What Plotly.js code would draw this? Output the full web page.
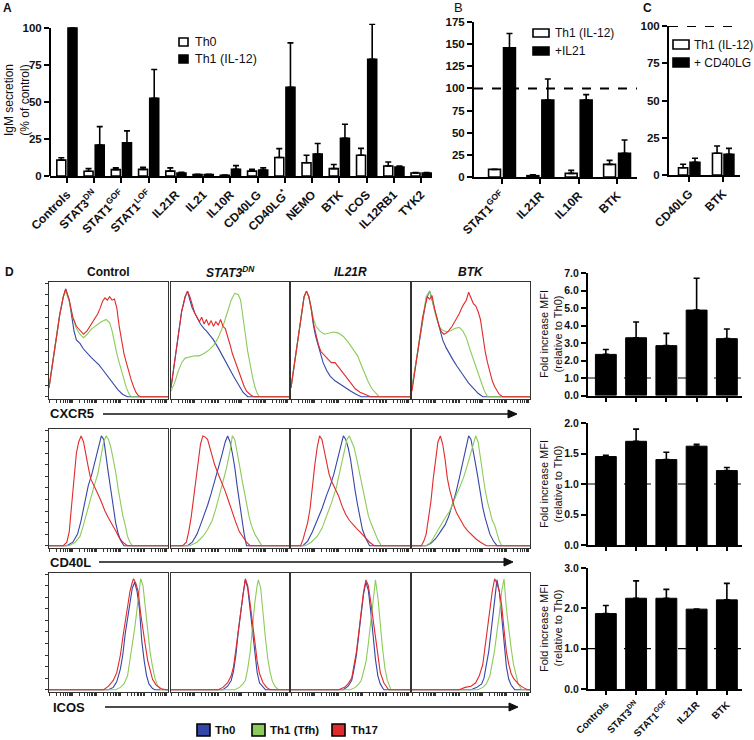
<!DOCTYPE html>
<html><head><meta charset="utf-8">
<script src="https://cdn.plot.ly/plotly-3.0.1.min.js"></script>
<style>html,body{margin:0;padding:0;background:#fff}#chart{width:754px;height:740px}</style>
</head><body><div id="chart"></div>
<script>
// ---------- Panel A ----------
const catsA = ['Controls','STAT3<sup>DN</sup>','STAT1<sup>GOF</sup>','STAT1<sup>LOF</sup>','IL21R','IL21','IL10R','CD40LG','CD40LG<sup>*</sup>','NEMO','BTK','ICOS','IL12RB1','TYK2'];
const th0A     = [10.7, 3.2, 4.3, 4.5, 3.3, 1.0, 0.5, 3.3, 12.5, 9.0, 5.0, 14.0, 6.8, 2.0];
const th0A_err = [1.6, 1.8, 1.2, 1.3, 2.2, 0.2, 0.2, 1.2, 6.0, 5.0, 2.8, 4.7, 2.7, 0.4];
const th1A     = [100, 20.9, 22.5, 52.5, 2.0, 1.0, 4.5, 4.0, 60.0, 14.8, 25.5, 78.8, 6.0, 2.0];
const th1A_err = [0, 12.5, 8.0, 19.5, 0.5, 0.2, 2.5, 1.5, 30.0, 7.2, 9.5, 23.8, 0.8, 0.3];
// ---------- Panel B ----------
const catsB = ['STAT1<sup>GOF</sup>','IL21R','IL10R','BTK'];
const th1B     = [8.6, 1.5, 4.1, 14.3];
const th1B_err = [0, 1.0, 3.4, 4.5];
const il21B     = [146, 87, 87, 26.7];
const il21B_err = [16, 23.6, 6, 15.1];
// ---------- Panel C ----------
const catsC = ['CD40LG','BTK'];
const th1C     = [4.9, 14.6];
const th1C_err = [2.3, 4.9];
const cd40C     = [8.5, 13.9];
const cd40C_err = [2.7, 4.0];
// ---------- Panel D bars ----------
const catsD = ['Controls','STAT3<sup>DN</sup>','STAT1<sup>GOF</sup>','IL21R','BTK'];
const cxcr5D     = [2.35, 3.3, 2.85, 4.88, 3.25];
const cxcr5D_err = [0.28, 0.9, 0.7, 1.82, 0.55];
const cd40lD     = [1.45, 1.70, 1.40, 1.62, 1.22];
const cd40lD_err = [0.02, 0.20, 0.12, 0.03, 0.05];
const icosD      = [1.87, 2.25, 2.25, 1.98, 2.21];
const icosD_err  = [0.20, 0.43, 0.22, 0.0, 0.41];
// ---------- Panel D histograms (x: channel 0-100, y: % of max) ----------
const histCols = ['Control','STAT3<sup>DN</sup>','IL21R','BTK'];
const histRows = ['CXCR5','CD40L','ICOS'];
const CXCR5_Control_Th0 = [[0,8],[3,30],[6,52],[9,72],[12,88],[14,95],[17,85],[19,70],[21,58],[23,50],[26,47],[29,42],[32,38],[35,35],[38,32],[42,28],[45,24],[48,20],[51,15],[54,11],[58,6],[62,2],[66,0],[100,0]];
const CXCR5_Control_Th1 = [[0,8],[3,30],[6,52],[9,72],[12,88],[14,93],[17,84],[20,70],[23,60],[26,55],[29,52],[32,55],[36,60],[40,63],[44,66],[48,68],[51,65],[53,58],[55,47],[57,38],[59,30],[61,22],[63,14],[65,8],[67,3],[69,0],[100,0]];
const CXCR5_Control_Th17 = [[0,8],[3,30],[6,52],[9,72],[12,88],[14,95],[17,85],[20,70],[23,62],[26,58],[29,55],[32,58],[35,63],[38,68],[41,73],[43,78],[45,84],[47,87],[49,85],[51,88],[53,85],[55,86],[57,78],[59,62],[61,48],[63,38],[65,30],[67,22],[69,15],[71,9],[73,4],[75,1],[77,0],[100,0]];
const CXCR5_STAT3_Th0 = [[0,8],[3,30],[6,55],[9,75],[12,88],[14,93],[16,85],[18,78],[20,74],[22,70],[25,64],[28,60],[30,58],[33,54],[36,50],[40,43],[44,35],[48,27],[53,18],[57,11],[61,4],[65,0],[100,0]];
const CXCR5_STAT3_Th1 = [[0,5],[3,12],[6,22],[9,30],[12,34],[16,35],[20,36],[24,36],[28,38],[32,41],[36,45],[40,52],[44,62],[48,75],[51,85],[54,91],[57,90],[59,85],[61,72],[63,55],[65,40],[67,28],[69,18],[71,9],[73,3],[75,0],[100,0]];
const CXCR5_STAT3_Th17 = [[0,8],[3,30],[6,55],[9,75],[12,88],[14,93],[16,88],[18,80],[20,74],[22,70],[24,66],[26,70],[28,64],[30,68],[32,63],[34,67],[36,62],[38,66],[40,63],[42,68],[44,62],[46,60],[48,54],[50,46],[52,38],[54,32],[56,27],[58,20],[60,14],[62,9],[64,5],[67,2],[70,0],[100,0]];
const CXCR5_IL21R_Th0 = [[0,8],[3,30],[6,55],[9,75],[11,88],[13,93],[15,88],[17,77],[19,62],[21,52],[24,40],[27,30],[30,23],[33,18],[37,14],[41,11],[45,8],[50,5],[55,2],[59,0],[100,0]];
const CXCR5_IL21R_Th1 = [[0,8],[3,30],[6,55],[9,75],[11,88],[13,93],[15,88],[17,78],[19,68],[21,62],[24,58],[28,55],[32,56],[36,57],[40,56],[44,53],[48,48],[52,42],[56,36],[59,28],[62,20],[65,13],[68,7],[71,3],[74,0],[100,0]];
const CXCR5_IL21R_Th17 = [[0,8],[3,30],[6,55],[9,75],[11,88],[13,93],[15,88],[17,78],[19,64],[21,55],[23,46],[25,40],[28,36],[31,33],[34,30],[37,30],[40,26],[43,22],[46,17],[50,12],[54,7],[58,4],[62,2],[67,0],[100,0]];
const CXCR5_BTK_Th0 = [[0,8],[3,28],[6,50],[9,70],[12,86],[15,93],[17,85],[19,76],[21,69],[23,60],[26,50],[29,43],[32,37],[35,32],[38,27],[41,22],[44,18],[48,12],[52,7],[56,3],[60,0],[100,0]];
const CXCR5_BTK_Th1 = [[0,8],[3,28],[6,50],[9,72],[12,88],[15,93],[17,86],[19,76],[21,68],[24,60],[27,58],[30,57],[33,58],[36,60],[40,61],[43,58],[46,52],[49,42],[52,33],[55,22],[58,13],[61,6],[64,0],[100,0]];
const CXCR5_BTK_Th17 = [[0,5],[3,25],[6,48],[9,70],[11,80],[13,88],[15,86],[17,89],[19,78],[21,70],[23,62],[25,57],[27,55],[29,56],[31,58],[34,62],[37,67],[40,73],[43,80],[46,85],[48,92],[50,86],[52,82],[54,80],[56,75],[58,68],[60,52],[62,40],[64,30],[66,21],[68,14],[70,9],[72,5],[74,2],[77,0],[100,0]];
const CD40L_Control_Th0 = [[0,0],[15,0],[20,3],[24,10],[27,22],[30,38],[33,52],[36,62],[39,75],[42,88],[44,95],[46,92],[48,75],[50,62],[52,48],[54,34],[56,20],[58,11],[60,5],[63,0],[100,0]];
const CD40L_Control_Th1 = [[0,0],[17,0],[22,3],[26,8],[29,18],[32,30],[35,42],[38,52],[41,62],[44,78],[46,90],[48,95],[50,92],[52,85],[54,75],[56,64],[58,50],[60,36],[62,26],[64,18],[66,8],[68,3],[70,0],[100,0]];
const CD40L_Control_Th17 = [[0,0],[12,0],[15,3],[17,12],[19,35],[21,60],[23,80],[25,90],[27,95],[29,90],[31,78],[33,68],[35,58],[38,52],[41,45],[44,38],[47,30],[50,24],[53,19],[56,13],[59,7],[62,3],[66,0],[100,0]];
const CD40L_STAT3_Th0 = [[0,0],[14,0],[18,3],[22,10],[25,18],[28,26],[31,35],[34,45],[37,55],[40,67],[43,78],[46,90],[48,95],[50,90],[52,80],[54,68],[56,52],[58,36],[60,24],[62,10],[64,0],[100,0]];
const CD40L_STAT3_Th1 = [[0,0],[16,0],[22,3],[27,8],[31,14],[35,22],[38,32],[41,43],[44,55],[47,67],[50,82],[52,95],[54,92],[56,82],[58,70],[60,58],[62,47],[64,36],[66,26],[68,18],[71,10],[74,5],[77,0],[100,0]];
const CD40L_STAT3_Th17 = [[0,0],[10,0],[13,3],[15,12],[17,24],[19,40],[21,55],[23,75],[25,88],[27,95],[29,94],[31,92],[33,85],[35,76],[37,70],[40,62],[43,55],[46,47],[49,38],[52,28],[55,20],[58,12],[61,7],[64,3],[67,0],[100,0]];
const CD40L_IL21R_Th0 = [[0,0],[10,0],[14,4],[18,12],[22,22],[26,32],[30,44],[33,52],[36,62],[39,75],[42,88],[44,95],[46,92],[48,85],[50,75],[52,60],[54,47],[56,35],[58,24],[60,14],[63,6],[66,0],[100,0]];
const CD40L_IL21R_Th1 = [[0,0],[12,0],[17,3],[22,8],[26,15],[30,26],[34,37],[38,50],[41,65],[44,80],[47,92],[49,95],[51,90],[53,85],[55,76],[57,66],[59,55],[61,44],[63,34],[65,26],[67,20],[70,12],[73,5],[76,0],[100,0]];
const CD40L_IL21R_Th17 = [[0,0],[8,0],[10,5],[12,12],[14,20],[16,32],[18,52],[20,70],[22,85],[24,95],[26,92],[28,82],[30,72],[32,62],[34,56],[37,50],[40,43],[43,34],[46,27],[49,22],[52,18],[55,15],[58,12],[62,7],[66,3],[70,0],[100,0]];
const CD40L_BTK_Th0 = [[0,0],[12,0],[16,2],[20,6],[24,12],[28,18],[31,25],[34,34],[37,45],[40,58],[43,72],[46,88],[48,95],[50,92],[52,82],[54,70],[56,58],[58,45],[60,33],[62,24],[64,18],[66,10],[69,4],[72,0],[100,0]];
const CD40L_BTK_Th1 = [[0,0],[12,0],[16,3],[20,10],[24,18],[28,24],[32,30],[35,38],[38,45],[41,52],[44,60],[47,70],[50,80],[52,88],[54,95],[56,90],[58,75],[60,60],[62,48],[64,38],[66,30],[68,22],[70,18],[72,10],[74,4],[76,0],[100,0]];
const CD40L_BTK_Th17 = [[0,0],[8,0],[10,4],[12,10],[14,24],[16,38],[18,58],[20,75],[22,90],[24,95],[26,88],[28,75],[30,58],[32,48],[34,40],[36,33],[38,28],[41,22],[44,17],[47,13],[50,10],[54,6],[58,3],[63,0],[100,0]];
const ICOS_Control_Th0 = [[0,0],[50,0],[54,2],[57,7],[60,18],[62,30],[64,48],[66,62],[68,78],[70,88],[72,93],[74,85],[76,70],[78,42],[80,25],[82,12],[84,5],[87,1],[89,0],[100,0]];
const ICOS_Control_Th1 = [[0,0],[56,0],[60,2],[63,5],[66,12],[68,25],[70,40],[72,53],[74,70],[76,88],[77,96],[79,90],[81,72],[83,50],[85,32],[87,20],[89,10],[91,4],[94,0],[100,0]];
const ICOS_Control_Th17 = [[0,0],[46,0],[50,3],[54,8],[57,15],[60,30],[62,45],[64,58],[66,72],[68,85],[70,93],[71,96],[73,92],[75,85],[77,66],[79,50],[81,38],[83,25],[85,16],[87,9],[90,4],[94,1],[98,0],[100,0]];
const ICOS_STAT3_Th0 = [[0,0],[44,0],[48,3],[51,8],[53,16],[55,30],[57,50],[59,68],[61,82],[63,95],[65,88],[67,70],[69,50],[71,30],[73,15],[75,6],[78,2],[80,0],[100,0]];
const ICOS_STAT3_Th1 = [[0,0],[54,0],[58,2],[61,5],[63,8],[65,18],[67,32],[69,55],[71,75],[73,90],[74,95],[76,88],[78,65],[80,45],[82,27],[84,15],[86,7],[88,3],[91,0],[100,0]];
const ICOS_STAT3_Th17 = [[0,0],[40,0],[44,2],[48,6],[51,12],[53,20],[55,35],[57,52],[59,68],[61,82],[63,96],[65,90],[67,75],[69,60],[71,42],[73,25],[75,14],[78,6],[81,2],[84,0],[100,0]];
const ICOS_IL21R_Th0 = [[0,0],[44,0],[48,3],[51,8],[53,18],[55,30],[57,48],[59,65],[61,83],[63,93],[65,86],[67,68],[69,45],[71,26],[73,12],[75,5],[78,0],[100,0]];
const ICOS_IL21R_Th1 = [[0,0],[50,0],[54,2],[57,5],[59,8],[61,15],[63,24],[65,40],[67,60],[69,80],[71,95],[73,80],[75,55],[77,35],[79,18],[81,8],[84,0],[100,0]];
const ICOS_IL21R_Th17 = [[0,0],[40,0],[45,2],[48,5],[51,10],[53,22],[55,33],[57,50],[59,68],[61,85],[63,95],[65,90],[67,76],[69,60],[71,42],[73,28],[75,15],[78,6],[82,0],[100,0]];
const ICOS_BTK_Th0 = [[0,0],[50,0],[55,2],[59,5],[61,10],[63,22],[65,33],[67,50],[69,70],[71,88],[72,95],[74,85],[76,62],[78,38],[80,20],[82,9],[84,4],[87,0],[100,0]];
const ICOS_BTK_Th1 = [[0,0],[56,0],[60,2],[63,5],[66,12],[68,22],[70,34],[72,50],[74,65],[76,85],[78,96],[80,70],[82,50],[84,36],[86,22],[88,12],[90,5],[93,0],[100,0]];
const ICOS_BTK_Th17 = [[0,0],[40,0],[45,2],[50,3],[54,6],[57,12],[60,22],[62,38],[64,53],[66,72],[68,85],[70,96],[72,92],[74,85],[76,73],[78,52],[80,33],[82,22],[84,14],[86,10],[90,5],[94,2],[98,0],[100,0]];

const histGrid = [
  [[CXCR5_Control_Th0,CXCR5_Control_Th1,CXCR5_Control_Th17],[CXCR5_STAT3_Th0,CXCR5_STAT3_Th1,CXCR5_STAT3_Th17],[CXCR5_IL21R_Th0,CXCR5_IL21R_Th1,CXCR5_IL21R_Th17],[CXCR5_BTK_Th0,CXCR5_BTK_Th1,CXCR5_BTK_Th17]],
  [[CD40L_Control_Th0,CD40L_Control_Th1,CD40L_Control_Th17],[CD40L_STAT3_Th0,CD40L_STAT3_Th1,CD40L_STAT3_Th17],[CD40L_IL21R_Th0,CD40L_IL21R_Th1,CD40L_IL21R_Th17],[CD40L_BTK_Th0,CD40L_BTK_Th1,CD40L_BTK_Th17]],
  [[ICOS_Control_Th0,ICOS_Control_Th1,ICOS_Control_Th17],[ICOS_STAT3_Th0,ICOS_STAT3_Th1,ICOS_STAT3_Th17],[ICOS_IL21R_Th0,ICOS_IL21R_Th1,ICOS_IL21R_Th17],[ICOS_BTK_Th0,ICOS_BTK_Th1,ICOS_BTK_Th17]]
];

// ---------- styling ----------
const W = 754, H = 740;
const FONT = 'Liberation Sans, Arial, Helvetica, sans-serif';
const C_TH0 = '#3446a8', C_TH1 = '#8ccb5a', C_TH17 = '#e2292b';
const dx = (a,b) => [a/W, b/W];
const dy = (top,bot) => [1-bot/H, 1-top/H];
const tickF = (s) => ({family: FONT, size: s, color: '#111', weight: 'bold'});

const traces = [];
const layout = {
  width: W, height: H, margin: {l:0,r:0,t:0,b:0},
  paper_bgcolor: '#fff', plot_bgcolor: 'rgba(0,0,0,0)',
  showlegend: false, barmode: 'overlay',
  font: {family: FONT, color: '#111'},
  shapes: [], annotations: []
};

function bar(xa, ya, cats, vals, errs, fill, offset, width, lw) {
  traces.push({type:'bar', x: cats, y: vals, xaxis: xa, yaxis: ya, offset: offset, width: width,
    marker: {color: fill, line: {color: '#000', width: lw}},
    error_y: {type:'data', symmetric:false, array: errs, arrayminus: errs.map(()=>0), color:'#000', thickness: 1.6, width: 3},
    hoverinfo:'skip', showlegend:false});
}
function catX(domain, range, cats, angle, showLabels, fs, tl) {
  return {domain: domain, range: range, type:'category', categoryorder:'array', categoryarray: cats,
    showline: true, linewidth: 2, linecolor:'#000', ticks:'outside', ticklen: tl || 5, tickwidth: 2, tickcolor:'#000',
    tickangle: angle, showticklabels: showLabels, tickfont: tickF(fs), showgrid:false, zeroline:false, fixedrange:true};
}
function valY(domain, range, dtick, fmt, showLine, fs) {
  return {domain: domain, range: range, dtick: dtick, tick0: 0, tickformat: fmt,
    showline: showLine, linewidth: 2, linecolor:'#000', ticks:'outside', ticklen: 5, tickwidth: 2, tickcolor:'#000',
    tickfont: tickF(fs), showgrid:false, zeroline:false, fixedrange:true};
}

// Panel A
layout.xaxis = Object.assign(catX(dx(50,432), [-0.62,13.4], catsA, -45, true, 12), {anchor:'y'});
layout.yaxis = Object.assign(valY(dy(23.6,176), [0,103], 25, '', false, 11.5), {anchor:'x', tickvals:[0,25,50,75,100]});
bar('x','y', catsA, th0A, th0A_err, '#fff', -0.37, 0.33, 1.6);
bar('x','y', catsA, th1A, th1A_err, '#000', 0.04, 0.33, 1.6);
layout.shapes.push({type:'line', xref:'x domain', yref:'y', x0:0, x1:0, y0:0, y1:100, line:{color:'#000', width:2}});

// Panel B
layout.xaxis2 = Object.assign(catX(dx(474,637), [-0.73,3.52], catsB, -45, true, 12), {anchor:'y2'});
layout.yaxis2 = Object.assign(valY(dy(22,177), [0,175], 25, '', true, 11.5), {anchor:'x2'});
bar('x2','y2', catsB, th1B, th1B_err, '#fff', -0.35, 0.31, 1.6);
bar('x2','y2', catsB, il21B, il21B_err, '#000', 0.04, 0.31, 1.6);
layout.shapes.push({type:'line', xref:'x2 domain', yref:'y2', x0:0, x1:1, y0:100, y1:100, line:{color:'#000', width:2, dash:'dash'}});

// Panel C
layout.xaxis3 = Object.assign(catX(dx(669,740), [-0.59,1.5], catsC, -45, true, 12), {anchor:'y3'});
layout.yaxis3 = Object.assign(valY(dy(26,175), [0,100], 25, '', true, 11.5), {anchor:'x3'});
bar('x3','y3', catsC, th1C, th1C_err, '#fff', -0.31, 0.27, 1.6);
bar('x3','y3', catsC, cd40C, cd40C_err, '#000', 0.03, 0.29, 1.6);
layout.shapes.push({type:'line', xref:'x3 domain', yref:'y3', x0:0, x1:1, y0:100, y1:100, line:{color:'#000', width:2, dash:'dash'}});

// Histograms
const colPx = [[49,168],[171,289],[291,410],[412,530]];
const rowPx = [[282,399],[429,548],[573,692]];
const logTicks = [];
for (let d = 0; d < 5; d++) for (let k = 1; k <= 9; k++) logTicks.push(20*(d + Math.log10(k)));
const curveColors = [C_TH0, C_TH1, C_TH17];
let ax = 4;
for (let r = 0; r < 3; r++) {
  for (let c = 0; c < 4; c++) {
    const xa = 'x' + ax, ya = 'y' + ax;
    layout['xaxis' + ax] = {domain: dx(colPx[c][0], colPx[c][1]), range:[0,100], anchor: ya,
      showline:true, mirror:true, linecolor:'#333', linewidth:1.2, ticks:'outside', ticklen:2.5, tickwidth:1, tickcolor:'#333',
      tickvals: logTicks, showticklabels:false, showgrid:false, zeroline:false, fixedrange:true};
    layout['yaxis' + ax] = {domain: dy(rowPx[r][0], rowPx[r][1]), range:[-2,101], anchor: xa,
      showline:true, mirror:true, linecolor:'#333', linewidth:1.2,
      ticks: c === 0 ? 'outside' : '', ticklen:3, tickwidth:1, tickcolor:'#333', dtick:10, tick0:0,
      showticklabels:false, showgrid:false, zeroline:false, fixedrange:true};
    const set = histGrid[r][c];
    for (let s = 0; s < 3; s++) {
      traces.push({type:'scatter', mode:'lines', x: set[s].map(p=>p[0]), y: set[s].map(p=>p[1]),
        xaxis: xa, yaxis: ya, line:{color: curveColors[s], width:1.1}, hoverinfo:'skip', showlegend:false});
    }
    ax++;
  }
}

// D bar charts
const dBars = [[cxcr5D, cxcr5D_err, [273,395.5], [0,7], 1], [cd40lD, cd40lD_err, [423,545], [0,2], 0.5], [icosD, icosD_err, [568,689], [0,3], 1]];
for (let i = 0; i < 3; i++) {
  const n = 16 + i, xa = 'x' + n, ya = 'y' + n;
  layout['xaxis' + n] = Object.assign(catX(dx(588,742), [-0.59,4.5], catsD, -45, i === 2, 10, 4), {anchor: ya});
  layout['yaxis' + n] = Object.assign(valY(dy(dBars[i][2][0], dBars[i][2][1]), dBars[i][3], dBars[i][4], '.1f', true, 10.5), {anchor: xa});
  bar(xa, ya, catsD, dBars[i][0], dBars[i][1], '#000', -0.345, 0.69, 1);
  layout.shapes.push({type:'line', xref:'paper', yref: ya, x0: 588/W, x1: 742/W, y0:1, y1:1, line:{color:'#000', width:1.2, dash:'dash'}});
}

// ---------- annotations / legends ----------
function txt(x, y, text, size, opts) {
  layout.annotations.push(Object.assign({xref:'paper', yref:'paper', x: x/W, y: 1-y/H, text: text, showarrow:false,
    xanchor:'left', yanchor:'middle', font:{family: FONT, size: size, color:'#111'}}, opts || {}));
}
function box(x0, y0, x1, y1, fill) {
  layout.shapes.push({type:'rect', xref:'paper', yref:'paper', x0: x0/W, x1: x1/W, y0: 1-y1/H, y1: 1-y0/H,
    fillcolor: fill, line:{color:'#000', width:1.6}});
}
// panel letters
txt(1, 8, '<b>A</b>', 12);
txt(452, 7, 'B', 13);
txt(641, 8, '<b>C</b>', 12);
txt(3, 272, '<b>D</b>', 12);
// Panel A title and legend
txt(17, 100, 'IgM secretion<br>(% of control)', 12, {xanchor:'center', textangle:-90});
box(179, 38, 188, 46, '#fff'); txt(193, 42, 'Th0', 12.5);
box(179, 55, 188, 63, '#000'); txt(193, 59, 'Th1 (IL-12)', 12.5);
// Panel B legend
box(533, 29, 549, 37, '#fff'); txt(553, 33, 'Th1 (IL-12)', 12);
box(533, 47, 549, 55, '#000'); txt(553, 51, '+IL21', 12);
// Panel C legend
box(673, 40, 689, 49, '#fff'); txt(692, 45, 'Th1 (IL-12)', 12);
box(673, 58, 689, 67, '#000'); txt(692, 63, '+ CD40LG', 12);
// D column titles
txt(108.5, 272, '<b>Control</b>', 12, {xanchor:'center'});
txt(230, 272, '<b><i>STAT3<sup>DN</sup></i></b>', 12, {xanchor:'center'});
txt(350.5, 272, '<b><i>IL21R</i></b>', 12, {xanchor:'center'});
txt(471, 272, '<b><i>BTK</i></b>', 12, {xanchor:'center'});
// D marker axis labels with arrows
const arrows = [['CXCR5', 48, 414, 103, 517], ['CD40L', 48, 562, 99, 513], ['ICOS', 51, 707, 105, 518]];
arrows.forEach(a => {
  txt(a[1], a[2], '<b>' + a[0] + '</b>', 13);
  layout.shapes.push({type:'line', xref:'paper', yref:'paper', x0: a[3]/W, x1: (a[4]-6)/W, y0: 1-a[2]/H, y1: 1-a[2]/H, line:{color:'#111', width:1.3}});
  layout.shapes.push({type:'path', xref:'paper', yref:'paper',
    path: `M ${(a[4]-9)/W} ${1-(a[2]-4)/H} L ${a[4]/W} ${1-a[2]/H} L ${(a[4]-9)/W} ${1-(a[2]+4)/H} Z`,
    fillcolor:'#111', line:{color:'#111', width:1}});
});
// D y titles
[334, 484, 628].forEach(yc => txt(551, yc, 'Fold increase MFI<br>(relative to Th0)', 11, {xanchor:'center', textangle:-90}));
// D legend
box(197, 724, 210, 736, C_TH0); txt(213, 730, '<b>Th0</b>', 11.5);
box(252, 724, 265, 736, C_TH1); txt(268, 730, '<b>Th1 (Tfh)</b>', 11.5);
box(332, 724, 345, 736, C_TH17); txt(349, 730, '<b>Th17</b>', 11.5);

Plotly.newPlot('chart', traces, layout, {staticPlot:true, displayModeBar:false});
</script>
</body></html>
